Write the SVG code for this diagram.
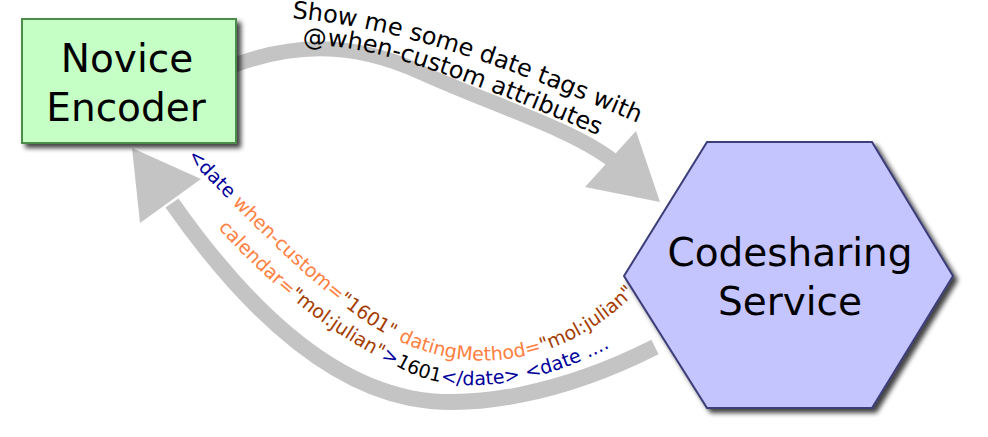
<svg xmlns="http://www.w3.org/2000/svg" xmlns:xlink="http://www.w3.org/1999/xlink" width="988" height="437" viewBox="0 0 988 437">
<style>
.node-text{font-family:"DejaVu Sans","Liberation Sans",sans-serif;font-size:39px;fill:#000;text-anchor:middle}
.lbl{font-family:"DejaVu Sans","Liberation Sans",sans-serif;font-size:24px;fill:#000}
.code{font-family:"DejaVu Sans","Liberation Sans",sans-serif;font-size:19px}
.blue{fill:#00009a}
.orange{fill:#ff8040}
.brown{fill:#a43c00}
.black{fill:#000}
.shaft{fill:none;stroke:#c4c4c4;stroke-width:15}
.head{fill:#c4c4c4}
</style>
<defs>
<filter id="shadow" x="-10%" y="-10%" width="125%" height="130%">
<feGaussianBlur in="SourceAlpha" stdDeviation="2.5"/>
<feOffset dx="4" dy="4" result="b"/>
<feComponentTransfer><feFuncA type="linear" slope="0.75"/></feComponentTransfer>
<feMerge><feMergeNode/><feMergeNode in="SourceGraphic"/></feMerge>
</filter>
<path id="p-top1" d="M 292,18 C 380,26 470,50 640,124"/>
<path id="p-top2" d="M 303,46 C 360,42 440,68 600,136"/>
<path id="p-bot1" d="M 187,157 C 240,212 300,275 360,318 C 420,360 480,370 540,352 C 575,341 605,322 630,298 L 660,268"/>
<path id="p-bot2" d="M 218,228 C 270,285 330,335 400,368 C 450,395 525,392 615,345 L 650,325"/>
</defs>
<rect width="988" height="437" fill="#fff"/>
<g id="connectors">
<g id="arrow-request">
<path class="shaft" d="M 232,66 C 290,44 350,40 420,72 C 490,104 570,128 612,160"/>
<polygon class="head" points="660,202 585,187 636,131"/>
<text class="lbl"><textPath xlink:href="#p-top1">Show me some date tags with</textPath></text>
<text class="lbl"><textPath xlink:href="#p-top2">@when-custom attributes</textPath></text>
</g>
<g id="arrow-response">
<path class="shaft" style="stroke-width:16" d="M 655,347 C 560,395 470,410 410,398 C 320,380 240,300 172,203"/>
<polygon class="head" points="132,148 140,223 201,179"/>
<text class="code"><textPath xlink:href="#p-bot1"><tspan class="blue">&lt;date</tspan><tspan class="orange"> when-custom=</tspan><tspan class="brown">"1601"</tspan><tspan class="orange"> datingMethod=</tspan><tspan class="brown">"mol:julian"</tspan></textPath></text>
<text class="code"><textPath xlink:href="#p-bot2"><tspan class="orange">calendar=</tspan><tspan class="brown">"mol:julian"</tspan><tspan class="blue">&gt;</tspan><tspan class="black">1601</tspan><tspan class="blue">&lt;/date&gt; &lt;date ....</tspan></textPath></text>
</g>
</g>
<g id="node-novice-encoder">
<rect x="22" y="19" width="214" height="124" fill="#c6ffc6" stroke="#4c8c4c" stroke-width="2" filter="url(#shadow)"/>
<text class="node-text" x="127" y="72">Novice</text>
<text class="node-text" x="126" y="121">Encoder</text>
</g>
<g id="node-codesharing-service">
<polygon points="707,142 872,142 953,276 872,408 707,408 624,276" fill="#c4c4ff" stroke="#3c3c78" stroke-width="2" filter="url(#shadow)"/>
<text class="node-text" x="790" y="266">Codesharing</text>
<text class="node-text" x="790" y="315">Service</text>
</g>
</svg>
